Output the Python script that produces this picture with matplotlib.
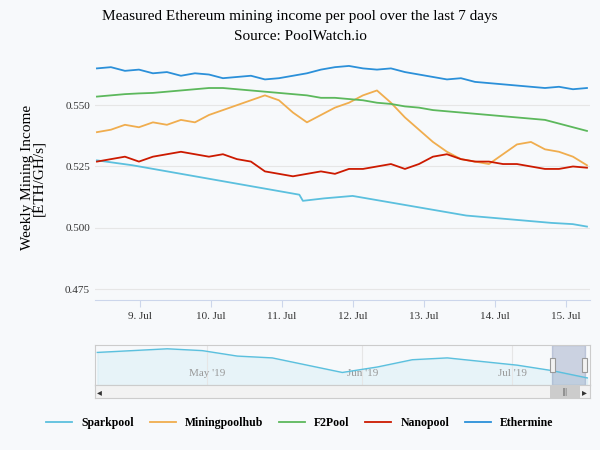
import numpy as np
import matplotlib.pyplot as plt
from matplotlib.patches import Rectangle

plt.rcParams['font.family'] = ['Liberation Serif', 'DejaVu Serif']

# pool income (ETH/GH/s per week), sampled over 8.4 .. 15.3 July
ethermine = [0.565,0.5655,0.564,0.5645,0.563,0.5635,0.562,0.563,0.5625,0.561,0.5615,0.562,
             0.5605,0.561,0.562,0.563,0.5645,0.5655,0.566,0.565,0.5645,0.565,0.5635,0.5625,
             0.5615,0.5605,0.561,0.5595,0.559,0.5585,0.558,0.5575,0.557,0.5575,0.5565,0.557]
f2pool = [0.5535,0.554,0.5545,0.5548,0.555,0.5555,0.556,0.5565,0.557,0.557,0.5565,0.556,
          0.5555,0.555,0.5545,0.554,0.553,0.553,0.5525,0.552,0.551,0.5505,0.5495,0.549,
          0.548,0.5475,0.547,0.5465,0.546,0.5455,0.545,0.5445,0.544,0.5425,0.541,0.5395]
mph = [0.539,0.540,0.542,0.541,0.543,0.542,0.544,0.543,0.546,0.548,0.550,0.552,
       0.554,0.552,0.547,0.543,0.546,0.549,0.551,0.554,0.556,0.551,0.545,0.540,
       0.535,0.531,0.528,0.527,0.526,0.530,0.534,0.535,0.532,0.531,0.529,0.5255]
nanopool = [0.527,0.528,0.529,0.527,0.529,0.530,0.531,0.530,0.529,0.530,0.528,0.527,
            0.523,0.522,0.521,0.522,0.523,0.522,0.524,0.524,0.525,0.526,0.524,0.526,
            0.529,0.530,0.528,0.527,0.527,0.526,0.526,0.525,0.524,0.524,0.525,0.5245]
spark_days = [8.4,8.9,11.25,11.3,11.6,12.0,12.4,12.8,13.2,13.6,14.0,14.4,14.8,15.1,15.3]
sparkpool = [0.5275,0.5255,0.5135,0.511,0.512,0.513,0.511,0.509,0.507,0.505,0.504,0.503,0.502,0.5015,0.5005]
days = np.linspace(8.4, 15.3, len(ethermine))

# navigator: days since 1 April
nav_days = [8,15,22,29,36,43,50,57,64,71,78,85,92,99,106]
nav_vals = [0.56,0.561,0.562,0.561,0.558,0.557,0.553,0.549,0.552,0.556,0.557,0.555,0.553,0.55,0.546]

bg = '#f7f9fb'
fig = plt.figure(figsize=(6, 4.5), dpi=100, facecolor=bg)
ax = fig.add_axes([0.158, 0.333, 0.825, 0.545], facecolor=bg)

cols = {'Sparkpool': '#5bc0de', 'Miningpoolhub': '#f0ad4e', 'F2Pool': '#5cb85c',
        'Nanopool': '#cc1a00', 'Ethermine': '#2b90d9'}
ax.plot(spark_days, sparkpool, color=cols['Sparkpool'], lw=1.3, label='Sparkpool')
ax.plot(days, mph, color=cols['Miningpoolhub'], lw=1.3, label='Miningpoolhub')
ax.plot(days, f2pool, color=cols['F2Pool'], lw=1.3, label='F2Pool')
ax.plot(days, nanopool, color=cols['Nanopool'], lw=1.3, label='Nanopool')
ax.plot(days, ethermine, color=cols['Ethermine'], lw=1.3, label='Ethermine')

ax.set_xlim(8.37, 15.34)
ax.set_ylim(0.4705, 0.5705)
ax.set_yticks([0.475, 0.5, 0.525, 0.55])
ax.set_yticklabels(['0.475', '0.500', '0.525', '0.550'])
ax.set_xticks(range(9, 16))
ax.set_xticklabels([f'{d}. Jul' for d in range(9, 16)])
ax.tick_params(labelsize=8, colors='#333333', length=0)
ax.tick_params(axis='x', length=5, color='#ccd6eb')
ax.grid(axis='y', color='#e6e6e6', lw=0.8)
for s in ['top', 'right', 'left']:
    ax.spines[s].set_visible(False)
ax.spines['bottom'].set_color('#ccd6eb')
ax.set_ylabel('Weekly Mining Income\n[ETH/GH/s]', fontsize=11, linespacing=0.8, labelpad=14)
fig.text(0.5, 0.955, 'Measured Ethereum mining income per pool over the last 7 days',
         ha='center', fontsize=11)
fig.text(0.5, 0.91, 'Source: PoolWatch.io', ha='center', fontsize=11)

# navigator
nav = fig.add_axes([0.158, 0.144, 0.825, 0.089], facecolor=bg)
nav.fill_between(nav_days, nav_vals, 0.53, color='#5bc0de', alpha=0.1)
nav.plot(nav_days, nav_vals, color='#5bc0de', lw=1)
nav.set_xlim(nav_days[0] - 0.5, 106.5)
nav.set_ylim(0.542, 0.564)
nav.axvspan(99, 105.5, color='#667aa6', alpha=0.3)
nav.set_xticks([30, 61, 91])
nav.set_xticklabels(["May '19", "Jun '19", "Jul '19"])
nav.tick_params(labelsize=8, colors='#999999', pad=-12, length=0)
nav.set_yticks([])
nav.grid(axis='x', color='#e6e6e6')
for s in nav.spines.values():
    s.set_color('#cccccc')
for xh in (99, 105.5):
    nav.add_patch(Rectangle((xh - 0.5, 0.549), 1.0, 0.008, facecolor='#f2f2f2',
                            edgecolor='#999999', lw=0.8, zorder=5))

# scrollbar
sb = fig.add_axes([0.158, 0.115, 0.825, 0.029], facecolor='#f2f2f2')
sb.set_xlim(0, 1); sb.set_ylim(0, 1)
sb.add_patch(Rectangle((0.92, 0.05), 0.06, 0.9, facecolor='#cccccc', lw=0))
sb.text(0.95, 0.45, '|||', ha='center', va='center', fontsize=6, color='#333333')
sb.text(0.01, 0.45, '◂', ha='center', va='center', fontsize=7, color='#333333', family='DejaVu Sans')
sb.text(0.99, 0.45, '▸', ha='center', va='center', fontsize=7, color='#333333', family='DejaVu Sans')
sb.set_xticks([]); sb.set_yticks([])
for s in sb.spines.values():
    s.set_color('#cccccc')

leg = fig.legend(loc='center', bbox_to_anchor=(0.5, 0.06), ncol=5, frameon=False,
                 prop={'weight': 'bold', 'size': 8.5}, handlelength=2.2, columnspacing=1.3)
fig.savefig('out.png', dpi=100, facecolor=bg)
